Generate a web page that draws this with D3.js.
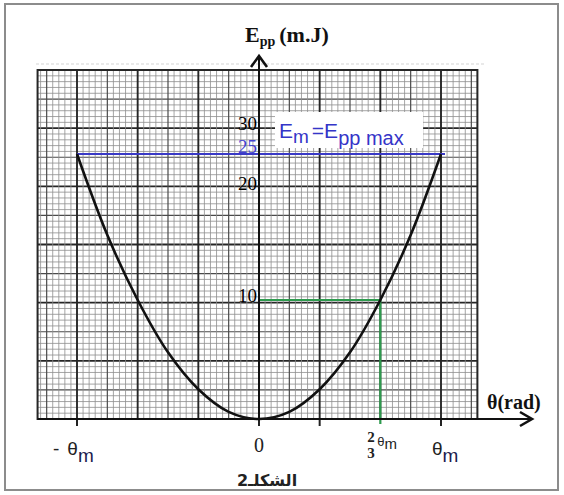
<!DOCTYPE html>
<html>
<head>
<meta charset="utf-8">
<script src="https://cdn.jsdelivr.net/npm/d3@7"></script>
<style>
body { margin: 0; background: #fff; }
</style>
</head>
<body>
<svg id="chart" width="564" height="495"></svg>
<script>
// theta as a fraction of theta_m, Epp in mJ
const thetaVals = [-1, -5/6, -2/3, -1/2, -1/3, -1/6, 0, 1/6, 1/3, 1/2, 2/3, 5/6, 1];
const eppVals   = [25, 15.8, 10, 5.6, 2.5, 0.6, 0, 0.6, 2.5, 5.6, 10, 15.8, 25];
const yTickVals = [10, 20, 30];
const eMax = 25;
const markTheta = 2/3;
const markEpp = 10;
const xTickVals = [-1, 0, 2/3, 1];
const axisTickVals = [-1, 0, 1/3, 1];

// d3 v7 has no .attrs, so add a small one
d3.selection.prototype.attrs = function(o) {
	for (const k in o) this.attr(k, o[k]);
	return this;
};

const svg = d3.select("#chart");

// the printed axis is not evenly spaced, so the y scale is polylinear
let x = d3.scaleLinear().domain([-1, 1]).range([77, 441]);
let y = d3.scaleLinear().domain([0, 10, 20, 25, 30]).range([419, 300, 188, 154, 128]);

// graph paper, in mm
let px = d3.scaleLinear().domain([0, 60]).range([x(-1), x(1)]);
let py = d3.scaleLinear().domain([0, 60]).range([419, 70]);
const paperX = [-6.5, 66];
const paperY = [0, 60];

// outer frame
svg.append("rect")
	.attrs({x: 5, y: 4, width: 553, height: 486, fill: "#fff", stroke: "#8c8c8c", "stroke-width": 2});

// faint scan line above the paper
svg.append("line")
	.attrs({x1: 36, x2: 486, y1: 64, y2: 64, stroke: "#e2e2e2", "stroke-width": 1.5, "stroke-dasharray": "3 2"});

function lineStyle(i) {
	if (i % 10 === 0) return {stroke: "#262626", "stroke-width": 1.9};
	if (i % 5 === 0) return {stroke: "#4a4a4a", "stroke-width": 1.2};
	return {stroke: "#8e8e8e", "stroke-width": 0.8};
}
function rank(i) { return i % 10 === 0 ? 2 : (i % 5 === 0 ? 1 : 0); }

const paper = svg.append("g");
const vIdx = d3.range(-6, 67).sort((a, b) => rank(a) - rank(b));
const hIdx = d3.range(1, 60).sort((a, b) => rank(a) - rank(b));

paper.selectAll(".h").data(hIdx).enter().append("line")
	.each(function(d) { d3.select(this).attrs(lineStyle(d)); })
	.attr("x1", px(paperX[0])).attr("x2", px(paperX[1]))
	.attr("y1", d => py(d)).attr("y2", d => py(d));
paper.selectAll(".v").data(vIdx).enter().append("line")
	.each(function(d) { d3.select(this).attrs(lineStyle(d)); })
	.attr("x1", d => px(d)).attr("x2", d => px(d))
	.attr("y1", py(paperY[0])).attr("y2", py(paperY[1]));
paper.append("rect")
	.attrs({x: px(paperX[0]), y: py(paperY[1]), width: px(paperX[1]) - px(paperX[0]), height: py(paperY[0]) - py(paperY[1]),
		fill: "none", stroke: "#262626", "stroke-width": 2});

// small ticks below the paper
svg.selectAll(".tk").data(axisTickVals).enter().append("line")
	.attr("x1", d => x(d)).attr("x2", d => x(d))
	.attrs({y1: y(0), y2: y(0) + 7, stroke: "#222", "stroke-width": 2});

// Em = Epp max
svg.append("line")
	.attrs({x1: x(-1), x2: x(1) + 4, y1: y(eMax), y2: y(eMax), stroke: "#3a3ac6", "stroke-width": 2.2});
svg.append("rect")
	.attrs({x: 275, y: 112, width: 148, height: 36, fill: "#fff"});
let em = svg.append("text")
	.attrs({x: 279, y: 138, fill: "#3535c8", "font-family": "Liberation Sans, Arial, sans-serif", "font-size": 21});
em.append("tspan").text("E");
em.append("tspan").attrs({dy: 5, "font-size": 19}).text("m");
em.append("tspan").attrs({dx: 3, dy: -5}).text("=");
em.append("tspan").text("E");
em.append("tspan").attrs({dy: 7, "font-size": 20}).text("pp max");

// y tick labels
svg.selectAll(".yl").data(yTickVals).enter().append("text")
	.attr("y", d => y(d) + 2)
	.attrs({x: x(0) - 2, "text-anchor": "end", fill: "#000",
		"font-family": "Liberation Serif, Times New Roman, serif", "font-size": 19})
	.text(d => d);
svg.append("text")
	.attrs({x: x(0) - 2, y: y(eMax) - 1, "text-anchor": "end", fill: "#4343d0",
		"font-family": "Liberation Serif, Times New Roman, serif", "font-size": 19})
	.text(eMax);

// green marker for 2/3 theta_m
svg.append("path")
	.attr("d", `M${x(0)},${y(markEpp)}H${x(markTheta)}V${y(0) + 5}`)
	.attrs({fill: "none", stroke: "#2e9a4e", "stroke-width": 2.2});

// curve
let line = d3.line()
	.x((d, i) => x(thetaVals[i]))
	.y(d => y(d))
	.curve(d3.curveCatmullRom);
svg.append("path")
	.datum(eppVals)
	.attr("d", line)
	.attrs({fill: "none", stroke: "#111", "stroke-width": 2.6});

// axes with arrows
svg.append("line")
	.attrs({x1: x(0), x2: x(0), y1: y(0), y2: 56, stroke: "#111", "stroke-width": 2});
svg.append("path")
	.attrs({d: `M${x(0) - 8},67L${x(0)},56L${x(0) + 8},67`, fill: "none", stroke: "#111", "stroke-width": 2.6});
svg.append("line")
	.attrs({x1: px(paperX[0]), x2: 532, y1: y(0), y2: y(0), stroke: "#111", "stroke-width": 2});
svg.append("path")
	.attrs({d: `M520,${y(0) - 7}L532,${y(0)}L520,${y(0) + 7}`, fill: "none", stroke: "#111", "stroke-width": 2.6});

// axis titles
let ttl = svg.append("text")
	.attrs({x: 245, y: 42, fill: "#111", "font-family": "Liberation Serif, Times New Roman, serif",
		"font-size": 22, "font-weight": "bold"});
ttl.append("tspan").text("E");
ttl.append("tspan").attrs({dy: 4, "font-size": 14}).text("pp");
ttl.append("tspan").attrs({dy: -4, dx: 4}).text("(m.J)");

svg.append("text")
	.attrs({x: 487, y: 409, fill: "#111", "font-family": "Liberation Serif, Times New Roman, serif",
		"font-size": 20, "font-weight": "bold"})
	.text("θ(rad)");

// x tick labels
const sans = "Liberation Sans, Arial, sans-serif";
const serif = "Liberation Serif, Times New Roman, serif";
xTickVals.forEach(v => {
	const cx = x(v);
	if (v === 0) {
		svg.append("text")
			.attrs({x: cx, y: 452, "text-anchor": "middle", fill: "#222", "font-family": serif, "font-size": 20})
			.text("0");
	} else if (v === 2/3) {
		svg.append("text").attrs({x: cx - 13, y: 442, fill: "#222", "font-family": serif, "font-size": 15, "font-weight": "bold"}).text("2");
		svg.append("text").attrs({x: cx - 13, y: 458, fill: "#222", "font-family": serif, "font-size": 15, "font-weight": "bold"}).text("3");
		let t = svg.append("text").attrs({x: cx - 3, y: 446, fill: "#222", "font-family": sans, "font-size": 13});
		t.append("tspan").text("θ");
		t.append("tspan").attrs({dy: 3, "font-size": 15}).text("m");
	} else {
		let t = svg.append("text")
			.attrs({x: v < 0 ? cx - 24 : cx - 9, y: 455, fill: "#222", "font-family": sans, "font-size": 19});
		if (v < 0) {
			t.append("tspan").text("-");
			t.append("tspan").attr("dx", 8).text("θ");
		} else {
			t.append("tspan").text("θ");
		}
		t.append("tspan").attrs({dy: 7, "font-size": 19, fill: "#1c1c4e"}).text("m");
	}
});

// caption
svg.append("text")
	.attrs({x: 267, y: 486, "text-anchor": "middle", fill: "#222", "font-family": "DejaVu Sans, Noto Sans, sans-serif",
		"font-size": 16, "font-weight": "bold"})
	.text("الشكلـ2");
</script>
</body>
</html>
